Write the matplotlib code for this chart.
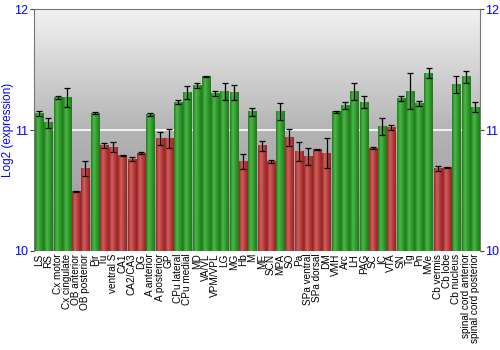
import numpy as np
import matplotlib
matplotlib.use('Agg')
import matplotlib.pyplot as plt
from matplotlib.colors import LinearSegmentedColormap

plt.rcParams['font.family'] = ['Liberation Sans', 'DejaVu Sans']

regions = ['LS', 'RS', 'Cx motor', 'Cx cingulate', 'OB anterior', 'OB posterior', 'Pir', 'Tu',
           'ventral S', 'CA1', 'CA2/CA3', 'DG', 'A anterior', 'A posterior', 'GP', 'CPu lateral',
           'CPu medial', 'MD', 'VA/VL', 'VPM/VPL', 'LG', 'MG', 'Hb', 'M', 'ME', 'SCN', 'MPA', 'SO',
           'Pa', 'SPa ventral', 'SPa dorsal', 'DM', 'VMH', 'Arc', 'LH', 'PAG', 'SC', 'IC', 'VTA',
           'SN', 'Tg', 'Pn', 'MVe', 'Cb vermis', 'Cb lobe', 'Cb nucleus', 'spinal cord anterior',
           'spinal cord posterior']
expression = [11.14, 11.06, 11.27, 11.27, 10.49, 10.68, 11.14, 10.87,
              10.86, 10.79, 10.76, 10.81, 11.13, 10.93, 10.93, 11.23,
              11.31, 11.37, 11.44, 11.30, 11.32, 11.31, 10.74, 11.15, 10.87, 10.74, 11.15, 10.94,
              10.82, 10.78, 10.84, 10.81, 11.15, 11.20, 11.32, 11.23, 10.85, 11.03, 11.02,
              11.26, 11.32, 11.22, 11.47, 10.68, 10.69, 11.38, 11.44,
              11.19]
error = [0.02, 0.04, 0.01, 0.08, 0.005, 0.06, 0.005, 0.02,
         0.04, 0.003, 0.02, 0.005, 0.01, 0.05, 0.08, 0.015,
         0.05, 0.02, 0.005, 0.02, 0.07, 0.06, 0.06, 0.03, 0.04, 0.01, 0.07, 0.07,
         0.08, 0.07, 0.005, 0.12, 0.01, 0.03, 0.07, 0.05, 0.01, 0.07, 0.02,
         0.02, 0.15, 0.02, 0.04, 0.02, 0.003, 0.07, 0.05,
         0.04]
# 'up' = green, 'down' = red
status = ['up', 'up', 'up', 'up', 'down', 'down', 'up', 'down',
          'down', 'down', 'down', 'down', 'up', 'down', 'down', 'up',
          'up', 'up', 'up', 'up', 'up', 'up', 'down', 'up', 'down', 'down', 'up', 'down',
          'down', 'down', 'down', 'down', 'up', 'up', 'up', 'up', 'down', 'up', 'down',
          'up', 'up', 'up', 'up', 'down', 'down', 'up', 'up',
          'up']

greens = LinearSegmentedColormap.from_list('g', ['#23801f', '#4cb848', '#2f9a2b', '#1f7a1c'])
reds = LinearSegmentedColormap.from_list('r', ['#9a2a2a', '#d06060', '#b83c3c', '#922525'])

fig = plt.figure(figsize=(5, 3.5), dpi=100)
ax = fig.add_axes([0.068, 0.283, 0.892, 0.691])

x = np.arange(len(regions))
ymin, ymax = 10, 12
ax.set_xlim(-0.55, len(regions) - 0.45)
ax.set_ylim(ymin, ymax)

# background gradient
bg = LinearSegmentedColormap.from_list('bg', ['#959595', '#b4b4b4', '#f2f2f2'])
ax.imshow(np.linspace(0, 1, 256).reshape(-1, 1), cmap=bg, aspect='auto', origin='lower',
          extent=[-0.55, len(regions) - 0.45, ymin, ymax], zorder=0)
ax.axhline(11, color='white', lw=1.2, zorder=1)

w = 0.88
grad = np.linspace(0, 1, 32).reshape(1, -1)
for xi, v, s in zip(x, expression, status):
    ax.imshow(grad, cmap=greens if s == 'up' else reds, aspect='auto',
              extent=[xi - w / 2, xi + w / 2, ymin, v], zorder=2)
ax.errorbar(x, expression, yerr=error, fmt='none', ecolor='black', elinewidth=0.9,
            capsize=2, capthick=0.9, zorder=3)

ax.set_xticks(x)
ax.set_xticklabels(regions, rotation=90, fontsize=7.2)
ax.tick_params(axis='x', length=0, pad=2)
ax.set_yticks([10, 11, 12])
ax.tick_params(axis='y', colors='#444444', labelcolor='blue', labelsize=9,
               right=True, labelright=True, length=3, pad=1, direction='out')
ax.set_ylabel('Log2 (expression)', color='blue', fontsize=8.5, labelpad=0)
for s in ['left', 'right', 'top', 'bottom']:
    ax.spines[s].set_color('#777777')
ax.spines['bottom'].set_visible(False)

fig.savefig('out.png', dpi=100)
